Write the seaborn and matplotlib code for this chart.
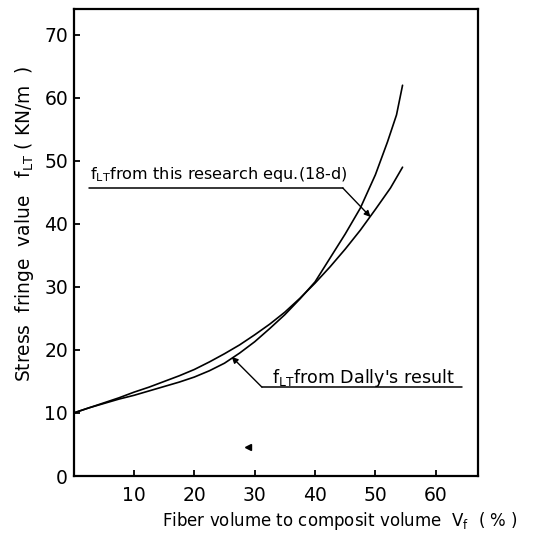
import numpy as np
import pandas as pd
import seaborn as sns
import matplotlib
matplotlib.use("Agg")
import matplotlib.pyplot as plt

# ---- data ----
vf_research = [0, 2.5, 5, 7.5, 10, 12.5, 15, 17.5, 20, 22.5, 25, 27.5, 30, 32.5, 35,
               37.5, 40, 42.5, 45, 47.5, 50, 52.5, 54.5]
f_research = [10, 10.8, 11.6, 12.4, 13.3, 14.1, 15.0, 15.9, 16.9, 18.1, 19.4, 20.8, 22.4,
              24.1, 26.0, 28.2, 30.6, 33.2, 36.0, 39.0, 42.3, 45.7, 49.0]

vf_dally = [0, 2.5, 5, 7.5, 10, 12.5, 15, 17.5, 20, 22.5, 25, 27.5, 30, 32.5, 35,
            37.5, 40, 42.5, 45, 47.5, 50, 52, 53.5, 54.5]
f_dally = [10, 10.8, 11.5, 12.2, 12.8, 13.5, 14.2, 14.9, 15.7, 16.7, 17.9, 19.5, 21.3,
           23.4, 25.6, 28.1, 30.8, 34.6, 38.4, 42.5, 47.8, 53.0, 57.3, 62.0]

stray_x = [28.9]
stray_y = [4.6]

xticks = [10, 20, 30, 40, 50, 60]
yticks = [0, 10, 20, 30, 40, 50, 60, 70]

df = pd.concat([
    pd.DataFrame({"vf": vf_research, "f": f_research, "series": "research"}),
    pd.DataFrame({"vf": vf_dally, "f": f_dally, "series": "dally"}),
])

sns.set_theme(style="ticks")
plt.rcParams["font.family"] = ["DejaVu Sans"]
plt.rcParams["mathtext.fontset"] = "custom"
plt.rcParams["mathtext.rm"] = "DejaVu Sans"

fig = plt.figure(figsize=(5.4, 5.36), dpi=100)
ax = fig.add_axes([73.6 / 540, 1 - 476 / 536, (478 - 73.6) / 540, (476 - 9) / 536])

sns.lineplot(data=df, x="vf", y="f", hue="series", palette=["black", "black"],
             legend=False, sort=False, estimator=None, linewidth=1.2, ax=ax)
ax.plot(stray_x, stray_y, marker="<", color="black", markersize=4, linestyle="none")

ax.set_xlim(0, 67)
ax.set_ylim(0, 74.1)
ax.set_xticks(xticks)
ax.set_yticks(yticks)
ax.tick_params(direction="in", length=4, width=1.3, labelsize=13.5, colors="black")
ax.tick_params(axis="x", pad=7)
ax.tick_params(axis="y", pad=4)
for s in ax.spines.values():
    s.set_linewidth(1.6)
    s.set_color("black")
    s.set_visible(True)
ax.set_xlabel("")
ax.set_ylabel("")

# annotations
ax.plot([2.5, 44.6], [45.7, 45.7], color="black", lw=1.1)
ax.annotate("", xy=(49.2, 41.1), xytext=(44.6, 45.7),
            arrowprops=dict(arrowstyle="-|>", color="black", lw=1.0,
                            mutation_scale=9, shrinkA=0, shrinkB=0))
ax.text(2.7, 47.9, r"$\mathrm{f}_{\mathrm{LT}}$from this research equ.(18-d)",
        fontsize=11.6, va="center", ha="left", color="black")

ax.plot([31.2, 64.3], [14.1, 14.1], color="black", lw=1.1)
ax.annotate("", xy=(26.2, 18.9), xytext=(31.2, 14.1),
            arrowprops=dict(arrowstyle="-|>", color="black", lw=1.0,
                            mutation_scale=9, shrinkA=0, shrinkB=0))
ax.text(32.9, 15.6, r"$\mathrm{f}_{\mathrm{LT}}$from Dally's result",
        fontsize=12.6, va="center", ha="left", color="black")

fig.text(25 / 540, 1 - 224 / 536,
         r"Stress  fringe  value   $\mathrm{f}_{\mathrm{LT}}$ ( KN/m  )",
         rotation=90, ha="center", va="center", fontsize=13.4, color="black")
fig.text(340 / 540, 1 - 521 / 536,
         r"Fiber volume to composit volume  V$_\mathrm{f}$  ( % )",
         ha="center", va="center", fontsize=12, color="black")

fig.savefig("out.png", dpi=100, facecolor="white")
